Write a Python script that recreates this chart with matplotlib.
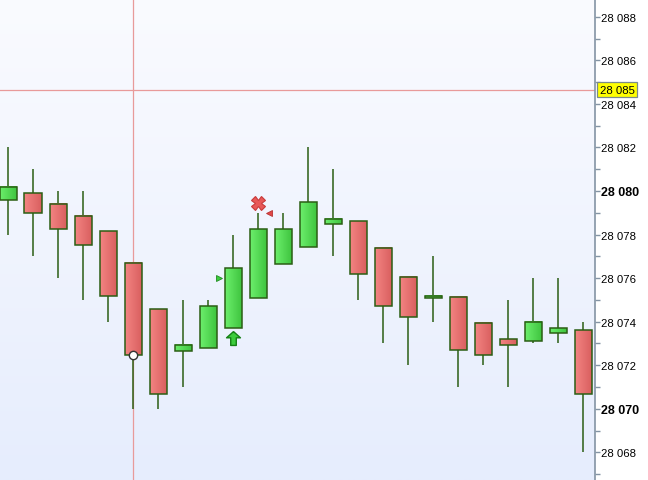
import numpy as np
import matplotlib
matplotlib.use('Agg')
import matplotlib.pyplot as plt
from matplotlib.patches import Rectangle
from matplotlib.path import Path
from matplotlib.colors import LinearSegmentedColormap
from matplotlib.ticker import MultipleLocator, FuncFormatter
import matplotlib.transforms as mtrans

# OHLC values
opens  = [28079.6, 28079.9, 28079.4, 28078.85, 28078.15, 28076.7, 28074.6, 28072.65,
          28072.8, 28073.7, 28075.1, 28076.65, 28077.45, 28078.47, 28078.6, 28077.4,
          28076.05, 28075.1, 28075.15, 28073.95, 28073.2, 28073.1, 28073.5, 28073.6]
highs  = [28082.0, 28081.0, 28080.0, 28080.0, 28078.15, 28076.7, 28074.6, 28075.0,
          28075.0, 28078.0, 28079.0, 28079.0, 28082.0, 28081.0, 28078.6, 28077.4,
          28076.05, 28077.0, 28075.15, 28074.0, 28075.0, 28076.0, 28076.0, 28074.0]
lows   = [28078.0, 28077.0, 28076.0, 28075.0, 28074.0, 28070.0, 28070.0, 28071.0,
          28072.8, 28073.7, 28075.1, 28076.65, 28077.45, 28077.0, 28075.0, 28073.0,
          28072.0, 28074.0, 28071.0, 28072.0, 28071.0, 28073.0, 28073.0, 28068.0]
closes = [28080.2, 28079.0, 28078.25, 28077.5, 28075.2, 28072.45, 28070.7, 28072.95,
          28074.7, 28076.45, 28078.25, 28078.25, 28079.5, 28078.7, 28076.2, 28074.7,
          28074.2, 28075.2, 28072.7, 28072.45, 28072.95, 28074.0, 28073.7, 28070.7]

cross_idx = 5
cross_price = 28084.64
cross_label = '28 085'
signal_x_idx, signal_x_price = 10, 28079.45
tri_left_idx, tri_left_price = 10.44, 28079.0
tri_right_idx, tri_right_price = 8.45, 28076.0
arrow_idx, arrow_price = 9, 28073.25

W, H = 648, 481
fig = plt.figure(figsize=(W / 100, H / 100), dpi=100)
fig.patch.set_facecolor('white')
ax = fig.add_axes([0, 0, 594.5 / W, 1])

# background gradient
bg = np.linspace(0, 1, 256).reshape(-1, 1)
bg_cmap = LinearSegmentedColormap.from_list('bg', ['#e6edfd', '#fafbff'])
ax.imshow(bg, extent=[0, 1, 0, 1], transform=ax.transAxes, aspect='auto',
          cmap=bg_cmap, origin='lower', zorder=0)

green_cmap = LinearSegmentedColormap.from_list('g', ['#6cef6c', '#3fc43f'])
red_cmap = LinearSegmentedColormap.from_list('r', ['#f38482', '#d95f5f'])
hgrad = np.linspace(0, 1, 64).reshape(1, -1)
edge = '#2b5e14'
bw = 0.68

# crosshair lines behind candles
ax.axvline(cross_idx, color='#e89a9a', lw=0.9, zorder=1)
ax.axhline(cross_price, color='#e89a9a', lw=0.9, zorder=1)

for i, (o, h, l, c) in enumerate(zip(opens, highs, lows, closes)):
    lo, hi = min(o, c), max(o, c)
    ax.plot([i, i], [l, h], color=edge, lw=1.1, zorder=2, solid_capstyle='butt')
    cm = green_cmap if c >= o else red_cmap
    ax.imshow(hgrad, extent=[i - bw / 2, i + bw / 2, lo, hi], aspect='auto',
              cmap=cm, zorder=3, interpolation='bilinear')
    ax.add_patch(Rectangle((i - bw / 2, lo), bw, hi - lo, fill=False,
                           edgecolor=edge, lw=1.1, zorder=4))

ax.set_xlim(-0.32, 23.46)
ax.set_ylim(28066.73, 28088.815)

# crosshair dot on the candle close
ax.plot(cross_idx, closes[cross_idx], 'o', ms=6, mfc='white', mec='#333333',
        mew=1.0, zorder=6)

# signals
ax.plot(signal_x_idx, signal_x_price, marker='X', ms=10, color='#e85858',
        mec='#c83a3a', mew=0.8, zorder=6)
ax.plot(tri_left_idx, tri_left_price, marker='<', ms=5, color='#e04848',
        mec='#b83030', mew=0.6, zorder=6)
ax.plot(tri_right_idx, tri_right_price, marker='>', ms=5, color='#3ccc3c',
        mec='#1f8a1f', mew=0.6, zorder=6)
arrow = Path([(0, 1), (1, 0.1), (0.4, 0.1), (0.4, -1), (-0.4, -1),
              (-0.4, 0.1), (-1, 0.1), (0, 1)])
ax.plot(arrow_idx, arrow_price, marker=arrow, ms=10, color='#3ccc3c',
        mec='#158015', mew=1.0, zorder=6)

# axes styling
ax.set_xticks([])
for s in ['top', 'left', 'bottom']:
    ax.spines[s].set_visible(False)
ax.spines['right'].set_color('#8494a4')
ax.spines['right'].set_linewidth(1.2)
ax.yaxis.tick_right()
ax.yaxis.set_major_locator(MultipleLocator(2))
ax.yaxis.set_minor_locator(MultipleLocator(1))
ax.tick_params(axis='y', which='both', direction='out', length=3.5, width=1,
               color='#8494a4', pad=1.5, labelsize=8.2)
ax.yaxis.set_major_formatter(FuncFormatter(
    lambda v, p: '{:,}'.format(int(round(v))).replace(',', ' ')))
for t in ax.get_yticklabels():
    t.set_fontfamily('Liberation Sans')
    if int(round(t.get_position()[1])) % 10 == 0:
        t.set_fontweight('bold')
        t.set_fontsize(9)

trans = mtrans.blended_transform_factory(ax.transAxes, ax.transData)
ax.text(1.009, cross_price, cross_label, transform=trans, va='center', ha='left',
        fontsize=8.2, family='Liberation Sans', zorder=10,
        bbox=dict(boxstyle='square,pad=0.22', fc='#ffff00', ec='#7a8a8a', lw=0.9),
        clip_on=False)

fig.savefig('out.png', dpi=100)
